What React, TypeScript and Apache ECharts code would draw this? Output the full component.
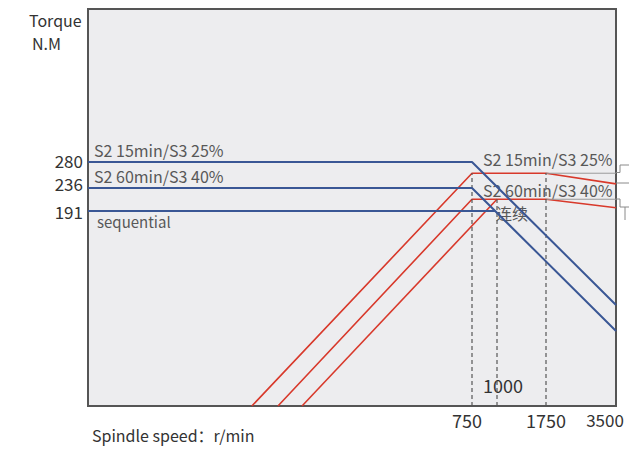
import React, { useEffect, useRef } from "react";
import * as echarts from "echarts";

// ---- data (real units: speed r/min, torque N.M) ----
const speedTickLabels = [750, 1750, 3500];
const torqueTickLabels = [191, 236, 280];
const markedSpeeds = [750, 1000, 1750];
const innerSpeedLabel = "1000";

const blueS2_15 = [[0, 280], [750, 280], [3500, 99]];
const blueS2_60 = [[0, 236], [750, 236], [3500, 73.5]];
const blueCont = [[0, 191], [980, 191]];

const redS2_15 = [[320, 0], [750, 261], [1750, 261], [3500, 243]];
const redS2_60 = [[371, 0], [750, 214], [1750, 214], [3500, 197.5]];
const redCont = [[418, 0], [1000, 214]];

const guide15 = [[1750, 261], [3500, 261]];
const guide60 = [[1750, 214], [3500, 214]];
const dashTops = [261, 214, 261];

// ---- schematic (non-linear) axis layout ----
const SPEED_DOMAIN = [0, 750, 1000, 1750, 3500];
const SPEED_RANGE = [0, 384, 409, 458, 528];
const TORQUE_DOMAIN = [0, 191, 236, 280, 400];
const TORQUE_RANGE = [0, 195, 218, 244, 397];

function piecewise(v: number, dom: number[], rng: number[]) {
  for (let i = 0; i < dom.length - 1; i++) {
    if (v <= dom[i + 1] || i === dom.length - 2) {
      const t = (v - dom[i]) / (dom[i + 1] - dom[i]);
      return rng[i] + t * (rng[i + 1] - rng[i]);
    }
  }
  return rng[rng.length - 1];
}
const sx = (v: number) => piecewise(v, SPEED_DOMAIN, SPEED_RANGE);
const sy = (v: number) => piecewise(v, TORQUE_DOMAIN, TORQUE_RANGE);
const toPos = (pts: number[][]) => pts.map(([s, t]) => [sx(s), sy(t)]);

const FONT = "'Noto Sans CJK SC', 'Noto Sans', sans-serif";
const BLUE = "#3a5795";
const RED = "#d8392b";
const TXT = "#585858";

export default function App() {
  const ref = useRef<HTMLDivElement>(null);
  useEffect(() => {
    if (!ref.current) return;
    const chart = echarts.init(ref.current, null, { renderer: "svg" });
    const lineS = (name: string, pts: number[][], color: string, width: number, type: any = "solid") => ({
      name,
      type: "line",
      data: toPos(pts),
      showSymbol: false,
      symbol: "none",
      silent: true,
      clip: true,
      lineStyle: { color, width, type },
      z: color === BLUE ? 4 : 3,
    });
    const series: any[] = [
      lineS("S2 15min/S3 25% torque", blueS2_15, BLUE, 2),
      lineS("S2 60min/S3 40% torque", blueS2_60, BLUE, 2),
      lineS("sequential torque", blueCont, BLUE, 2),
      lineS("S2 15min/S3 25% power", redS2_15, RED, 1.6),
      lineS("S2 60min/S3 40% power", redS2_60, RED, 1.6),
      lineS("sequential power", redCont, RED, 1.6),
      lineS("guide 15", guide15, "#9a9a9a", 1),
      lineS("guide 60", guide60, "#9a9a9a", 1),
      ...markedSpeeds.map((s, i) =>
        lineS("mark " + s, [[s, 0], [s, dashTops[i]]], "#555", 1.2, [4, 3])
      ),
    ];
    const xPosTicks = speedTickLabels.map(sx);
    const yPosTicks = torqueTickLabels.map(sy);
    const nearest = (arr: number[], pos: number[], v: number) => {
      let best = 0;
      pos.forEach((p, i) => {
        if (Math.abs(p - v) < Math.abs(pos[best] - v)) best = i;
      });
      return arr[best];
    };
    chart.setOption({
      animation: false,
      grid: {
        left: 88,
        top: 9,
        width: 528,
        height: 397,
        show: true,
        backgroundColor: "#ededef",
        borderColor: "#555",
        borderWidth: 2,
        containLabel: false,
      },
      xAxis: {
        type: "value",
        min: 0,
        max: 528,
        axisLine: { show: false },
        axisTick: { show: false },
        splitLine: { show: false },
        axisLabel: {
          customValues: xPosTicks,
          margin: 5,
          color: "#333",
          fontSize: 18,
          fontFamily: FONT,
          formatter: (v: number) => {
            const s = nearest(speedTickLabels, xPosTicks, v);
            if (s === 3500) return "{r|" + s + "}";
            if (s === 750) return "{l|" + s + "}";
            return String(s);
          },
          rich: {
            r: { padding: [0, 22, 0, 0], fontSize: 17, fontFamily: FONT, color: "#333" },
            l: { padding: [0, 10, 0, 0], fontSize: 18, fontFamily: FONT, color: "#333" },
          },
        },
      },
      yAxis: {
        type: "value",
        min: 0,
        max: 397,
        axisLine: { show: false },
        axisTick: { show: false },
        splitLine: { show: false },
        axisLabel: {
          customValues: yPosTicks,
          margin: 5,
          color: "#333",
          fontSize: 17,
          fontFamily: FONT,
          lineHeight: 17,
          formatter: (v: number) => {
            const t = nearest(torqueTickLabels, yPosTicks, v);
            if (t === 236) return "{u|" + t + "}";
            if (t === 280) return "{t|" + t + "}";
            return String(t);
          },
          rich: {
            u: { padding: [0, 0, 10, 0], lineHeight: 17, fontSize: 17, fontFamily: FONT, color: "#333" },
            t: { padding: [0, 0, 4, 0], lineHeight: 17, fontSize: 17, fontFamily: FONT, color: "#333" },
          },
        },
      },
      series,
      graphic: [
        { type: "text", left: 29, top: 12, style: { text: "Torque", fill: "#333", font: `16px ${FONT}` } },
        { type: "text", left: 32, top: 35, style: { text: "N.M", fill: "#333", font: `16px ${FONT}` } },
        { type: "text", left: 92, top: 427, style: { text: "Spindle speed：r/min", fill: "#333", font: `16px ${FONT}` } },
        { type: "text", left: 94, top: 142, style: { text: "S2 15min/S3 25%", fill: TXT, font: `16px ${FONT}` } },
        { type: "text", left: 94, top: 168, style: { text: "S2 60min/S3 40%", fill: TXT, font: `16px ${FONT}` } },
        { type: "text", left: 97, top: 214, style: { text: "sequential", fill: TXT, font: `15px ${FONT}` } },
        { type: "text", left: 483, top: 151, style: { text: "S2 15min/S3 25%", fill: TXT, font: `16px ${FONT}` } },
        { type: "text", left: 483, top: 182, style: { text: "S2 60min/S3 40%", fill: TXT, font: `16px ${FONT}` } },
        { type: "text", left: 496, top: 205, style: { text: "连续", fill: TXT, font: `16px ${FONT}` } },
        { type: "text", left: 483, top: 376, style: { text: innerSpeedLabel, fill: "#333", font: `18px ${FONT}` } },
        { type: "polyline", shape: { points: [[616, 172.5], [620, 172.5], [620, 165], [629, 165]] }, style: { stroke: "#8a8a8a", lineWidth: 1, fill: "none" } },
        { type: "line", shape: { x1: 616, y1: 183, x2: 629, y2: 183 }, style: { stroke: "#8a8a8a", lineWidth: 1 } },
        { type: "polyline", shape: { points: [[616, 199], [620, 199], [620, 207], [629, 207]] }, style: { stroke: "#8a8a8a", lineWidth: 1, fill: "none" } },
        { type: "line", shape: { x1: 625, y1: 207, x2: 625, y2: 220 }, style: { stroke: "#8a8a8a", lineWidth: 1 } },
      ],
    });
    return () => chart.dispose();
  }, []);
  return (
    <div
      ref={ref}
      style={{ position: "fixed", left: 0, top: 0, width: 629, height: 450, background: "#fff" }}
    />
  );
}
